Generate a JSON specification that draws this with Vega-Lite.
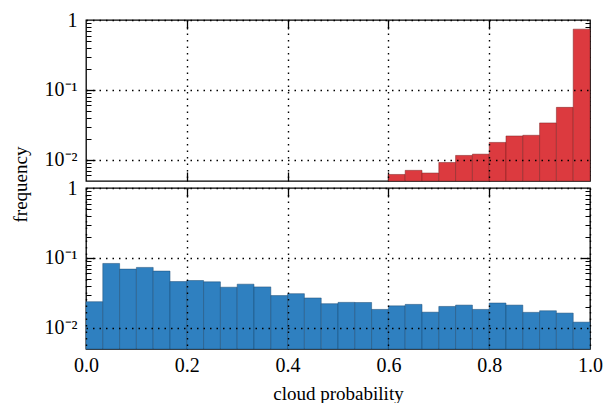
{
  "$schema": "https://vega.github.io/schema/vega-lite/v6.json",
  "background": "white",
  "padding": {"left": 10, "top": 9, "right": 10, "bottom": 0},
  "config": {
    "font": "Liberation Serif",
    "view": {"stroke": "black", "strokeWidth": 1.3},
    "axis": {"labelFont": "Liberation Serif", "titleFont": "Liberation Serif", "labelFontSize": 20, "titleFontSize": 19, "labelColor": "black", "titleColor": "black", "titleFontWeight": "normal", "labelFlush": false, "labelOverlap": false, "domain": false}
  },
  "spacing": 7,
  "bounds": "flush",
  "datasets": {
    "top": [
      {"lo": 0.6, "hi": 0.6333, "freq": 0.0062},
      {"lo": 0.6333, "hi": 0.6667, "freq": 0.0071},
      {"lo": 0.6667, "hi": 0.7, "freq": 0.0065},
      {"lo": 0.7, "hi": 0.7333, "freq": 0.0092},
      {"lo": 0.7333, "hi": 0.7667, "freq": 0.0116},
      {"lo": 0.7667, "hi": 0.8, "freq": 0.0121},
      {"lo": 0.8, "hi": 0.8333, "freq": 0.0178},
      {"lo": 0.8333, "hi": 0.8667, "freq": 0.022},
      {"lo": 0.8667, "hi": 0.9, "freq": 0.0225},
      {"lo": 0.9, "hi": 0.9333, "freq": 0.0338},
      {"lo": 0.9333, "hi": 0.9667, "freq": 0.0564},
      {"lo": 0.9667, "hi": 1.0, "freq": 0.74}
    ],
    "bottom": [
      {"lo": 0.0, "hi": 0.0333, "freq": 0.0237},
      {"lo": 0.0333, "hi": 0.0667, "freq": 0.0835},
      {"lo": 0.0667, "hi": 0.1, "freq": 0.0693},
      {"lo": 0.1, "hi": 0.1333, "freq": 0.0733},
      {"lo": 0.1333, "hi": 0.1667, "freq": 0.0649},
      {"lo": 0.1667, "hi": 0.2, "freq": 0.046},
      {"lo": 0.2, "hi": 0.2333, "freq": 0.0476},
      {"lo": 0.2333, "hi": 0.2667, "freq": 0.0456},
      {"lo": 0.2667, "hi": 0.3, "freq": 0.0382},
      {"lo": 0.3, "hi": 0.3333, "freq": 0.0422},
      {"lo": 0.3333, "hi": 0.3667, "freq": 0.0386},
      {"lo": 0.3667, "hi": 0.4, "freq": 0.029},
      {"lo": 0.4, "hi": 0.4333, "freq": 0.0309},
      {"lo": 0.4333, "hi": 0.4667, "freq": 0.0268},
      {"lo": 0.4667, "hi": 0.5, "freq": 0.0222},
      {"lo": 0.5, "hi": 0.5333, "freq": 0.0232},
      {"lo": 0.5333, "hi": 0.5667, "freq": 0.0231},
      {"lo": 0.5667, "hi": 0.6, "freq": 0.0184},
      {"lo": 0.6, "hi": 0.6333, "freq": 0.0207},
      {"lo": 0.6333, "hi": 0.6667, "freq": 0.0217},
      {"lo": 0.6667, "hi": 0.7, "freq": 0.0168},
      {"lo": 0.7, "hi": 0.7333, "freq": 0.0203},
      {"lo": 0.7333, "hi": 0.7667, "freq": 0.0212},
      {"lo": 0.7667, "hi": 0.8, "freq": 0.0184},
      {"lo": 0.8, "hi": 0.8333, "freq": 0.0227},
      {"lo": 0.8333, "hi": 0.8667, "freq": 0.0212},
      {"lo": 0.8667, "hi": 0.9, "freq": 0.0167},
      {"lo": 0.9, "hi": 0.9333, "freq": 0.0176},
      {"lo": 0.9333, "hi": 0.9667, "freq": 0.0163},
      {"lo": 0.9667, "hi": 1.0, "freq": 0.0121}
    ]
  },
  "vconcat": [
    {
      "data": {"name": "top"},
      "width": 504,
      "height": 161,
      "layer": [
        {
          "mark": {"type": "bar", "fill": "#dc3a3f", "stroke": "#7a2020", "strokeWidth": 0.7, "strokeOpacity": 0.7},
          "encoding": {
            "x": {"field": "lo", "type": "quantitative", "scale": {"domain": [0, 1], "nice": false, "zero": false},
              "axis": {"orient": "bottom", "values": [0.2, 0.4, 0.6, 0.8], "labels": false, "ticks": false, "grid": true, "gridColor": "black", "gridDash": [1.5, 5], "gridWidth": 1.4, "gridOpacity": 1, "title": null, "zindex": 1}},
            "x2": {"field": "hi"},
            "y": {"field": "freq", "type": "quantitative", "scale": {"type": "log", "domain": [0.005, 1], "nice": false},
              "axis": {"orient": "left", "values": [1, 0.1, 0.01], "labelExpr": "datum.value >= 0.99 ? '1' : datum.value >= 0.099 ? '10⁻¹' : '10⁻²'", "labelPadding": 9, "ticks": false, "grid": true, "gridColor": "black", "gridDash": [1.5, 5], "gridWidth": 1.4, "gridOpacity": 1, "zindex": 1, "title": "frequency", "titleY": 164, "titlePadding": 14}},
            "y2": {"datum": 0.005}
          }
        },
        {
          "mark": {"type": "point", "opacity": 0},
          "encoding": {
            "x": {"field": "lo", "type": "quantitative", "axis": {"orient": "top", "values": [0.2, 0.4, 0.6, 0.8], "labels": false, "ticks": true, "tickSize": -9, "tickColor": "black", "tickWidth": 1.3, "grid": false, "title": null}},
            "y": {"field": "freq", "type": "quantitative", "axis": {"orient": "right", "values": [0.1, 0.01], "labels": false, "ticks": true, "tickSize": -9, "tickColor": "black", "tickWidth": 1.3, "grid": false, "title": null}}
          }
        },
        {
          "mark": {"type": "point", "opacity": 0},
          "encoding": {
            "x": {"field": "lo", "type": "quantitative", "axis": {"orient": "bottom", "values": [0.2, 0.4, 0.6, 0.8], "labels": false, "ticks": true, "tickSize": -9, "tickColor": "black", "tickWidth": 1.3, "grid": false, "title": null}},
            "y": {"field": "freq", "type": "quantitative", "axis": {"orient": "left", "values": [0.1, 0.01], "labels": false, "ticks": true, "tickSize": -9, "tickColor": "black", "tickWidth": 1.3, "grid": false, "title": null}}
          }
        },
        {
          "mark": {"type": "point", "opacity": 0},
          "encoding": {
            "x": {"field": "lo", "type": "quantitative", "axis": null},
            "y": {"field": "freq", "type": "quantitative", "axis": {"orient": "left", "values": [0.006, 0.007, 0.008, 0.009, 0.02, 0.03, 0.04, 0.05, 0.06, 0.07, 0.08, 0.09, 0.2, 0.3, 0.4, 0.5, 0.6, 0.7, 0.8, 0.9], "labels": false, "ticks": true, "tickSize": -5, "tickColor": "black", "tickWidth": 1, "grid": false, "title": null}}
          }
        },
        {
          "mark": {"type": "point", "opacity": 0},
          "encoding": {
            "x": {"field": "lo", "type": "quantitative", "axis": null},
            "y": {"field": "freq", "type": "quantitative", "axis": {"orient": "right", "values": [0.006, 0.007, 0.008, 0.009, 0.02, 0.03, 0.04, 0.05, 0.06, 0.07, 0.08, 0.09, 0.2, 0.3, 0.4, 0.5, 0.6, 0.7, 0.8, 0.9], "labels": false, "ticks": true, "tickSize": -5, "tickColor": "black", "tickWidth": 1, "grid": false, "title": null}}
          }
        }
      ],
      "resolve": {"axis": {"x": "independent", "y": "independent"}}
    },
    {
      "data": {"name": "bottom"},
      "width": 504,
      "height": 161,
      "layer": [
        {
          "mark": {"type": "bar", "fill": "#2f80c0", "stroke": "#1b4a73", "strokeWidth": 0.7, "strokeOpacity": 0.7},
          "encoding": {
            "x": {"field": "lo", "type": "quantitative", "scale": {"domain": [0, 1], "nice": false, "zero": false},
              "axis": {"orient": "bottom", "values": [0, 0.2, 0.4, 0.6, 0.8, 1], "format": ".1f", "labelPadding": 6, "ticks": false, "grid": true, "gridColor": "black", "gridDash": [1.5, 5], "gridWidth": 1.4, "gridOpacity": 1, "title": "cloud probability", "titlePadding": 9, "zindex": 1}},
            "x2": {"field": "hi"},
            "y": {"field": "freq", "type": "quantitative", "scale": {"type": "log", "domain": [0.005, 1], "nice": false},
              "axis": {"orient": "left", "values": [1, 0.1, 0.01], "labelExpr": "datum.value >= 0.99 ? '1' : datum.value >= 0.099 ? '10⁻¹' : '10⁻²'", "labelPadding": 9, "ticks": false, "grid": true, "gridColor": "black", "gridDash": [1.5, 5], "gridWidth": 1.4, "gridOpacity": 1, "zindex": 1, "title": null}},
            "y2": {"datum": 0.005}
          }
        },
        {
          "mark": {"type": "point", "opacity": 0},
          "encoding": {
            "x": {"field": "lo", "type": "quantitative", "axis": {"orient": "top", "values": [0.2, 0.4, 0.6, 0.8], "labels": false, "ticks": true, "tickSize": -9, "tickColor": "black", "tickWidth": 1.3, "grid": false, "title": null}},
            "y": {"field": "freq", "type": "quantitative", "axis": {"orient": "right", "values": [0.1, 0.01], "labels": false, "ticks": true, "tickSize": -9, "tickColor": "black", "tickWidth": 1.3, "grid": false, "title": null}}
          }
        },
        {
          "mark": {"type": "point", "opacity": 0},
          "encoding": {
            "x": {"field": "lo", "type": "quantitative", "axis": {"orient": "bottom", "values": [0.2, 0.4, 0.6, 0.8], "labels": false, "ticks": true, "tickSize": -9, "tickColor": "black", "tickWidth": 1.3, "grid": false, "title": null}},
            "y": {"field": "freq", "type": "quantitative", "axis": {"orient": "left", "values": [0.1, 0.01], "labels": false, "ticks": true, "tickSize": -9, "tickColor": "black", "tickWidth": 1.3, "grid": false, "title": null}}
          }
        },
        {
          "mark": {"type": "point", "opacity": 0},
          "encoding": {
            "x": {"field": "lo", "type": "quantitative", "axis": null},
            "y": {"field": "freq", "type": "quantitative", "axis": {"orient": "left", "values": [0.006, 0.007, 0.008, 0.009, 0.02, 0.03, 0.04, 0.05, 0.06, 0.07, 0.08, 0.09, 0.2, 0.3, 0.4, 0.5, 0.6, 0.7, 0.8, 0.9], "labels": false, "ticks": true, "tickSize": -5, "tickColor": "black", "tickWidth": 1, "grid": false, "title": null}}
          }
        },
        {
          "mark": {"type": "point", "opacity": 0},
          "encoding": {
            "x": {"field": "lo", "type": "quantitative", "axis": null},
            "y": {"field": "freq", "type": "quantitative", "axis": {"orient": "right", "values": [0.006, 0.007, 0.008, 0.009, 0.02, 0.03, 0.04, 0.05, 0.06, 0.07, 0.08, 0.09, 0.2, 0.3, 0.4, 0.5, 0.6, 0.7, 0.8, 0.9], "labels": false, "ticks": true, "tickSize": -5, "tickColor": "black", "tickWidth": 1, "grid": false, "title": null}}
          }
        }
      ],
      "resolve": {"axis": {"x": "independent", "y": "independent"}}
    }
  ]
}
